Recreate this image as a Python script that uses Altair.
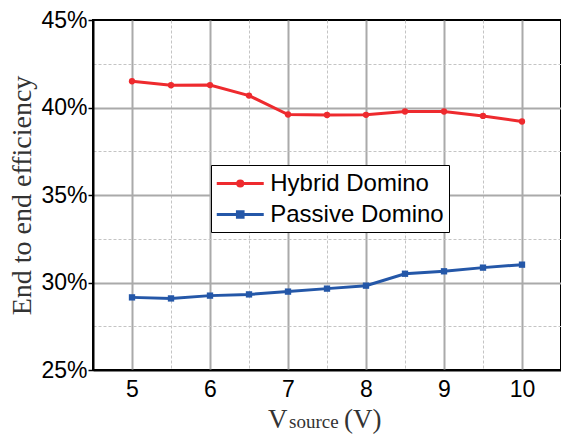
import altair as alt
import pandas as pd

# ---- data ----
v_source = [5, 5.5, 6, 6.5, 7, 7.5, 8, 8.5, 9, 9.5, 10]
hybrid = [41.5, 41.27, 41.28, 40.68, 39.6, 39.57, 39.58, 39.77, 39.77, 39.52, 39.2]
passive = [29.15, 29.09, 29.25, 29.32, 29.48, 29.65, 29.82, 30.5, 30.64, 30.85, 31.02]
series_names = ["Hybrid Domino", "Passive Domino"]
series_colors = ["#EE2A2E", "#2457A8"]
series_markers = ["circle", "square"]
x_ticks = [5, 5.5, 6, 6.5, 7, 7.5, 8, 8.5, 9, 9.5, 10]
y_ticks = [25, 27.5, 30, 32.5, 35, 37.5, 40, 42.5, 45]

rows = []
for name, vals in zip(series_names, [hybrid, passive]):
    for x, y in zip(v_source, vals):
        rows.append({"V": x, "eff": y, "series": name})
df = pd.DataFrame(rows)

W, H = 468, 350

# legend glyphs: a line with the series marker in its middle
red_path = "M-2,0H2M-0.22,0A0.22,0.22 0 1,0 0.22,0A0.22,0.22 0 1,0 -0.22,0Z"
blue_path = "M-2,0H2M-0.24,-0.24H0.24V0.24H-0.24Z"

def make_legend():
    return alt.Legend(
        title=None, orient="none", legendX=118, legendY=145,
        strokeColor="black", fillColor="white", padding=5,
        labelFont="Liberation Sans", labelFontSize=24, labelColor="black",
        labelOffset=16.5, labelLimit=400, symbolSize=552, symbolStrokeWidth=3,
        symbolOffset=10.75, rowPadding=5, symbolOpacity=1,
    )

x_enc = alt.X("V:Q", scale=alt.Scale(domain=[4.5, 10.5], nice=False, zero=False),
              axis=alt.Axis(values=x_ticks, title=None, ticks=False,
                            labelExpr="datum.value % 1 === 0 ? format(datum.value, 'd') : ''",
                            labelFont="Liberation Sans", labelFontSize=23, labelColor="black",
                            labelPadding=8, domainColor="black", domainWidth=2,
                            gridDash={"condition": {"test": "datum.value % 1 !== 0", "value": [3, 2]}, "value": []},
                            gridColor={"condition": {"test": "datum.value % 1 !== 0", "value": "#c4c4c4"}, "value": "#aaaaaa"},
                            gridWidth={"condition": {"test": "datum.value % 1 !== 0", "value": 1}, "value": 2}))
y_enc = alt.Y("eff:Q", scale=alt.Scale(domain=[25, 45], nice=False, zero=False),
              axis=alt.Axis(values=y_ticks, title="End to end efficiency",
                            titleFont="Liberation Serif", titleFontSize=28, titleFontWeight="normal",
                            titleColor="#333333", titlePadding=4,
                            labelExpr="datum.value % 5 === 0 ? datum.value + '%' : ''",
                            labelFont="Liberation Sans", labelFontSize=23, labelColor="black",
                            labelPadding=1, tickSize=5, tickColor="black", tickWidth=1.5,
                            tickOpacity={"condition": {"test": "datum.value % 5 !== 0", "value": 0}, "value": 1},
                            domainColor="black", domainWidth=2,
                            gridOpacity={"condition": {"test": "datum.value === 25 || datum.value === 45", "value": 0}, "value": 1},
                            gridDash={"condition": {"test": "datum.value % 5 !== 0", "value": [3, 2]}, "value": []},
                            gridColor={"condition": {"test": "datum.value % 5 !== 0", "value": "#c4c4c4"}, "value": "#aaaaaa"},
                            gridWidth={"condition": {"test": "datum.value % 5 !== 0", "value": 1}, "value": 2}))

base = alt.Chart(df)
layers = []
for i, (name, col, mk) in enumerate(zip(series_names, series_colors, series_markers)):
    sub = base.transform_filter(alt.datum.series == name)
    layers.append(sub.mark_line(strokeWidth=3, color=col).encode(
        x=x_enc if i == 0 else alt.X("V:Q"), y=y_enc if i == 0 else alt.Y("eff:Q")))
    layers.append(sub.mark_point(filled=True, opacity=1, size=40, shape=mk, color=col).encode(
        x="V:Q", y="eff:Q"))

# helper layer that only provides the legend (line + marker symbols); its own marks sit off-canvas and are clipped
legend_layer = base.mark_point(filled=True, size=40, strokeWidth=3, clip=True).encode(
    x=alt.value(-1000), y=alt.value(-1000),
    fill=alt.Fill("series:N", scale=alt.Scale(domain=series_names, range=series_colors), legend=make_legend()),
    stroke=alt.Stroke("series:N", scale=alt.Scale(domain=series_names, range=series_colors), legend=make_legend()),
    shape=alt.Shape("series:N", scale=alt.Scale(domain=series_names, range=[red_path, blue_path]), legend=make_legend()))
layers.append(legend_layer)

# x-axis title with subscript, built from text pieces
ty = H + 58
for txt, size, xpos in [("V", 27, 175), ("source", 19, 196), ("(V)", 27, 251)]:
    layers.append(alt.Chart(pd.DataFrame({"t": [txt]})).mark_text(
        font="Liberation Serif", fontSize=size, align="left", baseline="alphabetic", color="#333333"
    ).encode(text="t:N", x=alt.value(xpos), y=alt.value(ty)))

chart = alt.layer(*layers).properties(
    width=W, height=H,
    padding={"left": 93, "top": 20, "right": 0, "bottom": 69},
    autosize=alt.AutoSizeParams(type="none"),
).configure_view(stroke="black", strokeWidth=2)

chart.save("out.html", embed_options={"renderer": "svg", "actions": False})
